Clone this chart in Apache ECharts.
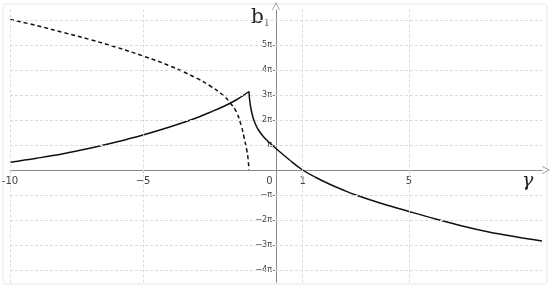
<!DOCTYPE html>
<html>
<head>
<meta charset="utf-8">
<script src="https://cdn.jsdelivr.net/npm/echarts@6/dist/echarts.min.js"></script>
<style>
  html, body { margin: 0; padding: 0; background: #fff; }
  #chart { width: 550px; height: 287px; }
</style>
</head>
<body>
<div id="chart"></div>
<script>
// b1 values are in units of pi
const solidLeft = [
  [-10, 0.31], [-9, 0.47], [-8, 0.65], [-7, 0.87], [-6, 1.12], [-5, 1.4],
  [-4, 1.72], [-3, 2.08], [-2.5, 2.3], [-2, 2.53], [-1.5, 2.8], [-1.015, 3.14],
];
const solidRight = [
  [-1.015, 3.14], [-1.0, 2.9], [-0.98, 2.72], [-0.95, 2.5], [-0.9, 2.25],
  [-0.85, 2.05], [-0.75, 1.78], [-0.66, 1.6], [-0.5, 1.37], [-0.4, 1.25],
  [-0.2, 1.05], [0, 0.86], [0.5, 0.41], [1, 0], [1.5, -0.3], [2, -0.56],
  [2.5, -0.79], [3, -1.0], [4, -1.35], [5, -1.66], [6, -1.96], [7, -2.24],
  [8, -2.48], [9, -2.67], [10, -2.84],
];
const dashed = [
  [-10, 6.02], [-9, 5.78], [-8, 5.5], [-7, 5.22], [-6, 4.91], [-5, 4.56],
  [-4, 4.17], [-3, 3.68], [-2.5, 3.38], [-2, 3.0], [-1.75, 2.72], [-1.5, 2.35],
  [-1.3, 1.75], [-1.2, 1.3], [-1.1, 0.8], [-1.05, 0.45], [-1.015, 0],
];
const xTicks = [-10, -5, 0, 1, 5];
const yTicks = [-4, -3, -2, -1, 1, 2, 3, 4, 5];
const gridX = [-10, -5, 1, 5];
const gridY = [-4, -3, -2, -1, 1, 2, 3, 4, 5, 6];
const xMin = -10, xMax = 10, yMin = -4.5, yMax = 6.4;

const W = 550, H = 287;
const pad = { left: 10, right: 8, top: 10, bottom: 4.5 };
const plotW = W - pad.left - pad.right;
const plotH = H - pad.top - pad.bottom;
// move the axes so they cross at the origin
const xAxisOffset = -((0 - yMin) / (yMax - yMin)) * plotH;
const yAxisOffset = -((0 - xMin) / (xMax - xMin)) * plotW;

const chevron = "path://M0,10L5,0L10,10L9,10L5,2L1,10Z";
const axisColor = "#8a8a8a";
const labelColor = "#444";

function piLabel(v) {
  if (v === 1) return "π";
  if (v === -1) return "−π";
  return (v < 0 ? "−" + (-v) : v) + "π";
}

const chart = echarts.init(document.getElementById("chart"));
chart.setOption({
  animation: false,
  grid: Object.assign({ outerBoundsMode: "none", containLabel: false }, pad),
  graphic: [
    {
      type: "rect", shape: { x: 3, y: 4, width: 544, height: 280, r: 3 },
      style: { fill: "none", stroke: "#dfeaf3", lineWidth: 1 }, silent: true, z: -1,
    },
    {
      type: "text", left: 251, top: 8,
      style: { text: "b", font: "20px 'DejaVu Serif', serif", fill: "#222" },
    },
    {
      type: "text", left: 264, top: 19,
      style: { text: "1", font: "9px 'DejaVu Serif', serif", fill: "#555" },
    },
    {
      type: "text", left: 522, top: 172,
      style: { text: "γ", font: "italic 19px 'DejaVu Serif', serif", fill: "#222" },
    },
  ],
  xAxis: {
    type: "value", min: xMin, max: xMax, position: "bottom", offset: xAxisOffset,
    axisLine: {
      onZero: false, lineStyle: { color: axisColor, width: 1 },
      symbol: ["none", chevron], symbolSize: [8, 13], symbolOffset: [0, 4],
    },
    axisTick: { customValues: xTicks, length: 3, lineStyle: { color: axisColor } },
    axisLabel: {
      customValues: xTicks, color: labelColor, fontSize: 10, margin: 6,
      fontFamily: "DejaVu Sans",
      formatter: (v) => (v === 0 ? "{z|0}" : v === -5 ? "−5" : String(v)),
      rich: { z: { padding: [0, 13, 0, 0], fontSize: 10, color: labelColor } },
    },
    splitLine: { show: false },
  },
  yAxis: {
    type: "value", min: yMin, max: yMax, position: "left", offset: yAxisOffset,
    axisLine: {
      onZero: false, lineStyle: { color: axisColor, width: 1 },
      symbol: ["none", chevron], symbolSize: [8, 13], symbolOffset: [0, 4],
    },
    axisTick: { customValues: yTicks, length: 3, lineStyle: { color: axisColor } },
    axisLabel: {
      customValues: yTicks, color: labelColor, fontSize: 8, margin: 4,
      fontFamily: "DejaVu Sans", formatter: piLabel,
    },
    splitLine: { show: false },
  },
  series: [
    {
      type: "line", data: [], silent: true,
      markLine: {
        silent: true, symbol: "none", label: { show: false },
        lineStyle: { color: "#dcdcdc", type: [3, 2], width: 1 },
        data: gridX.map((x) => ({ xAxis: x })).concat(gridY.map((y) => ({ yAxis: y }))),
      },
    },
    {
      name: "solidLeft", type: "line", data: solidLeft, showSymbol: false,
      smooth: 0.4, lineStyle: { color: "#111", width: 1.5 },
    },
    {
      name: "solidRight", type: "line", data: solidRight, showSymbol: false,
      smooth: 0.4, lineStyle: { color: "#111", width: 1.5 },
    },
    {
      name: "dashed", type: "line", data: dashed, showSymbol: false,
      smooth: 0.4, lineStyle: { color: "#111", width: 1.5, type: [4, 3] },
    },
  ],
});
</script>
</body>
</html>
